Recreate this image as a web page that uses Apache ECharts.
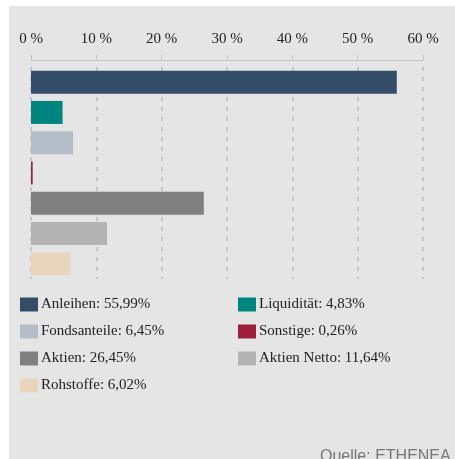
<!DOCTYPE html>
<html>
<head>
<meta charset="utf-8">
<script src="https://cdn.jsdelivr.net/npm/echarts@6/dist/echarts.min.js"></script>
<style>
  html, body { margin: 0; padding: 0; background: #fff; }
  #chart { width: 455px; height: 459px; }
</style>
</head>
<body>
<div id="chart"></div>
<script>
// Anteile laut Quelle ETHENEA
const categories = ['Anleihen', 'Liquidität', 'Fondsanteile', 'Sonstige', 'Aktien', 'Aktien Netto', 'Rohstoffe'];
const values = [55.99, 4.83, 6.45, 0.26, 26.45, 11.64, 6.02];
const colors = ['#334d68', '#00847f', '#b3bec9', '#9d1f3b', '#808080', '#b3b3b3', '#e8d5bb'];
const tickLabels = ['0 %', '10 %', '20 %', '30 %', '40 %', '50 %', '60 %'];

const serif = '"Liberation Serif", "DejaVu Serif", serif';

const myChart = echarts.init(document.getElementById('chart'));

// one series per category so every bar gets its own legend entry
const series = categories.map((name, i) => {
  const data = categories.map((c, j) => (j === i ? values[i] : '-'));
  return {
    name: name,
    type: 'bar',
    stack: 'all',
    barCategoryGap: '24%',
    itemStyle: { color: colors[i] },
    data: data
  };
});

const fmt = v => v.toFixed(2).replace('.', ',');

const option = {
  animation: false,
  graphic: [
    {
      type: 'rect',
      left: 9, top: 6,
      shape: { width: 446, height: 453 },
      style: { fill: '#e5e5e5' },
      z: -10
    },
    {
      type: 'text',
      left: 320, top: 449,
      style: {
        text: 'Quelle: ETHENEA',
        font: '16px "Liberation Sans", Arial, sans-serif',
        fill: '#777'
      }
    }
  ],
  grid: { left: 31, right: 32, top: 67, bottom: 180 },
  xAxis: {
    type: 'value',
    position: 'top',
    offset: 7,
    min: 0,
    max: 60,
    interval: 10,
    axisLine: { show: true, lineStyle: { color: '#c4c4c4', width: 1 } },
    axisTick: { show: true, length: 5, lineStyle: { color: '#c4c4c4' } },
    axisLabel: {
      margin: 13,
      fontFamily: serif,
      fontSize: 15,
      color: '#222',
      formatter: v => tickLabels[Math.round(v / 10)]
    },
    splitLine: { show: true, lineStyle: { color: '#c6c6c6', type: [4, 6], width: 2 } }
  },
  yAxis: {
    type: 'category',
    inverse: true,
    data: categories,
    axisLine: { show: false },
    axisTick: { show: false },
    axisLabel: { show: false }
  },
  legend: {
    left: 20,
    top: 296,
    padding: 0,
    width: 430,
    itemWidth: 18,
    itemHeight: 14,
    itemGap: 10,
    icon: 'rect',
    selectedMode: false,
    formatter: name => name + ': ' + fmt(values[categories.indexOf(name)]) + '%',
    textStyle: {
      fontFamily: serif,
      fontSize: 15,
      color: '#222',
      width: 187,
      padding: [0, 0, 0, -2],
      lineHeight: 17
    },
    data: categories
  },
  series: series
};

myChart.setOption(option);
</script>
</body>
</html>
